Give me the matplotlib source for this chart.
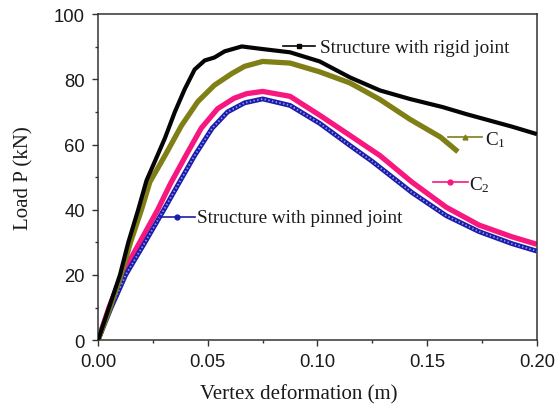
import matplotlib
matplotlib.use("Agg")
import matplotlib.pyplot as plt
from matplotlib.ticker import MultipleLocator

plt.rcParams["mathtext.fontset"] = "custom"
plt.rcParams["mathtext.rm"] = "Liberation Serif"
plt.rcParams["mathtext.it"] = "Liberation Serif:italic"

# Load-deflection curves, vertex deformation (m) vs load P (kN)
rigid_x = [0, 0.005, 0.010, 0.0138, 0.0183, 0.0221, 0.026, 0.0305, 0.035, 0.0395,
           0.044, 0.0486, 0.053, 0.0577, 0.0655, 0.075, 0.0875, 0.101, 0.1148,
           0.1285, 0.142, 0.157, 0.168, 0.1886, 0.2]
rigid_y = [0, 10, 20, 30, 40, 49, 55, 62, 70, 77,
           83, 85.8, 86.7, 88.6, 90.1, 89.3, 88.3, 85.5, 80.6,
           76.6, 74.0, 71.5, 69.3, 65.5, 63.2]

c1_x = [0, 0.0055, 0.0105, 0.0148, 0.0198, 0.0236, 0.0305, 0.038, 0.0455, 0.053,
        0.061, 0.0668, 0.075, 0.0875, 0.101, 0.1148, 0.1285, 0.142,
        0.156, 0.164]
c1_y = [0, 10, 20, 30, 40, 48.5, 56.6, 65.8, 73.2, 78.2,
        81.8, 84, 85.5, 85, 82.3, 78.9, 73.8, 67.8,
        62.3, 57.8]

c2_x = [0, 0.005, 0.0108, 0.019, 0.0272, 0.033, 0.040, 0.047, 0.0545, 0.062,
        0.0677, 0.075, 0.0875, 0.101, 0.1148, 0.1285, 0.143, 0.1586,
        0.1736, 0.1886, 0.2]
c2_y = [0, 10, 20, 30, 40, 48, 56.6, 65, 71, 74.2,
        75.6, 76.3, 74.8, 69, 62.8, 56.6, 48.5, 40.8,
        35.3, 31.7, 29.4]

pinned_x = [0, 0.006, 0.0126, 0.0214, 0.030, 0.0362, 0.044, 0.052, 0.059, 0.0668,
            0.075, 0.0875, 0.101, 0.1148, 0.125, 0.143, 0.1586, 0.1736,
            0.1886, 0.2]
pinned_y = [0, 10, 20, 30, 40, 47.4, 56.6, 65, 70, 72.8,
            74.0, 72, 66.5, 59.7, 54.8, 45.3, 38.2, 33.3,
            29.6, 27.3]

x_ticks = [0.00, 0.05, 0.10, 0.15, 0.20]
y_ticks = [0, 20, 40, 60, 80, 100]

label_rigid = "Structure with rigid joint"
label_c1 = r"C$_\mathregular{1}$"
label_c2 = r"C$_\mathregular{2}$"
label_pinned = "Structure with pinned joint"

BLACK = "#050505"
OLIVE = "#7f7f16"
PINK = "#f7177f"
BLUE = "#1c1caa"
BLUE_LIGHT = "#8e96f0"

fig = plt.figure(figsize=(5.57, 4.10), dpi=100)
ax = fig.add_axes([0.176, 0.168, 0.788, 0.795])

ax.plot(c2_x, c2_y, color=PINK, lw=3.8, solid_capstyle="butt",
        solid_joinstyle="round", zorder=2)
ax.plot(pinned_x, pinned_y, color=BLUE, lw=3.5, solid_capstyle="butt",
        solid_joinstyle="round", zorder=3)
ax.plot(pinned_x, pinned_y, color=BLUE_LIGHT, lw=1.3, dashes=(0.8, 1.3), zorder=3.1)
ax.plot(c1_x, c1_y, color=OLIVE, lw=3.8, solid_capstyle="butt",
        solid_joinstyle="round", zorder=4)
ax.plot(rigid_x, rigid_y, color=BLACK, lw=3.0, solid_capstyle="butt",
        solid_joinstyle="round", zorder=5)

# inline series keys: short line with a marker, followed by the label
serif = "Liberation Serif"
keys = [
    (0.421, 0.494, 0.903, BLACK, "s", 0.506, 0.883, label_rigid),
    (0.797, 0.875, 0.623, OLIVE, "^", 0.882, 0.601, label_c1),
    (0.763, 0.843, 0.485, PINK, "o", 0.845, 0.463, label_c2),
    (0.141, 0.221, 0.377, BLUE, "o", 0.2255, 0.362, label_pinned),
]
for x0, x1, yk, col, mk, xt, yt, txt in keys:
    ax.plot([x0, x1], [yk, yk], color=col, lw=1.2, transform=ax.transAxes,
            zorder=6, clip_on=False)
    ax.plot([(x0 + x1) / 2], [yk], color=col, marker=mk, ms=3.5,
            transform=ax.transAxes, zorder=6, clip_on=False)
    ax.text(xt, yt, txt, transform=ax.transAxes, fontsize=13.8,
            family=serif, color="#1a1a1a", va="baseline", ha="left", zorder=6)

ax.set_xlim(0, 0.20)
ax.set_ylim(0, 100)
ax.set_xticks(x_ticks)
ax.set_xticklabels([f"{v:.2f}" for v in x_ticks])
ax.set_yticks(y_ticks)
ax.set_yticklabels([str(v) for v in y_ticks])
ax.xaxis.set_minor_locator(MultipleLocator(0.025))
ax.yaxis.set_minor_locator(MultipleLocator(10))

for side in ["left", "bottom", "right", "top"]:
    ax.spines[side].set_linewidth(1.1)
    ax.spines[side].set_color("#333333")

ax.tick_params(axis="both", which="major", direction="out", length=4.5,
               width=1.0, color="#333333", labelsize=13.3, pad=5)
ax.tick_params(axis="both", which="minor", direction="out", length=2.5,
               width=1.0, color="#333333")
ax.tick_params(top=False, right=False, which="both")
for lab in ax.get_xticklabels() + ax.get_yticklabels():
    lab.set_family("Liberation Sans")
    lab.set_color("#1a1a1a")

ax.set_xlabel("Vertex deformation (m)", fontsize=15, family=serif, color="#1a1a1a")
ax.set_ylabel("Load P (kN)", fontsize=15, family=serif, color="#1a1a1a")
ax.xaxis.set_label_coords(0.457, -0.135)
ax.yaxis.set_label_coords(-0.148, 0.5)

fig.savefig("out.png", dpi=100)
